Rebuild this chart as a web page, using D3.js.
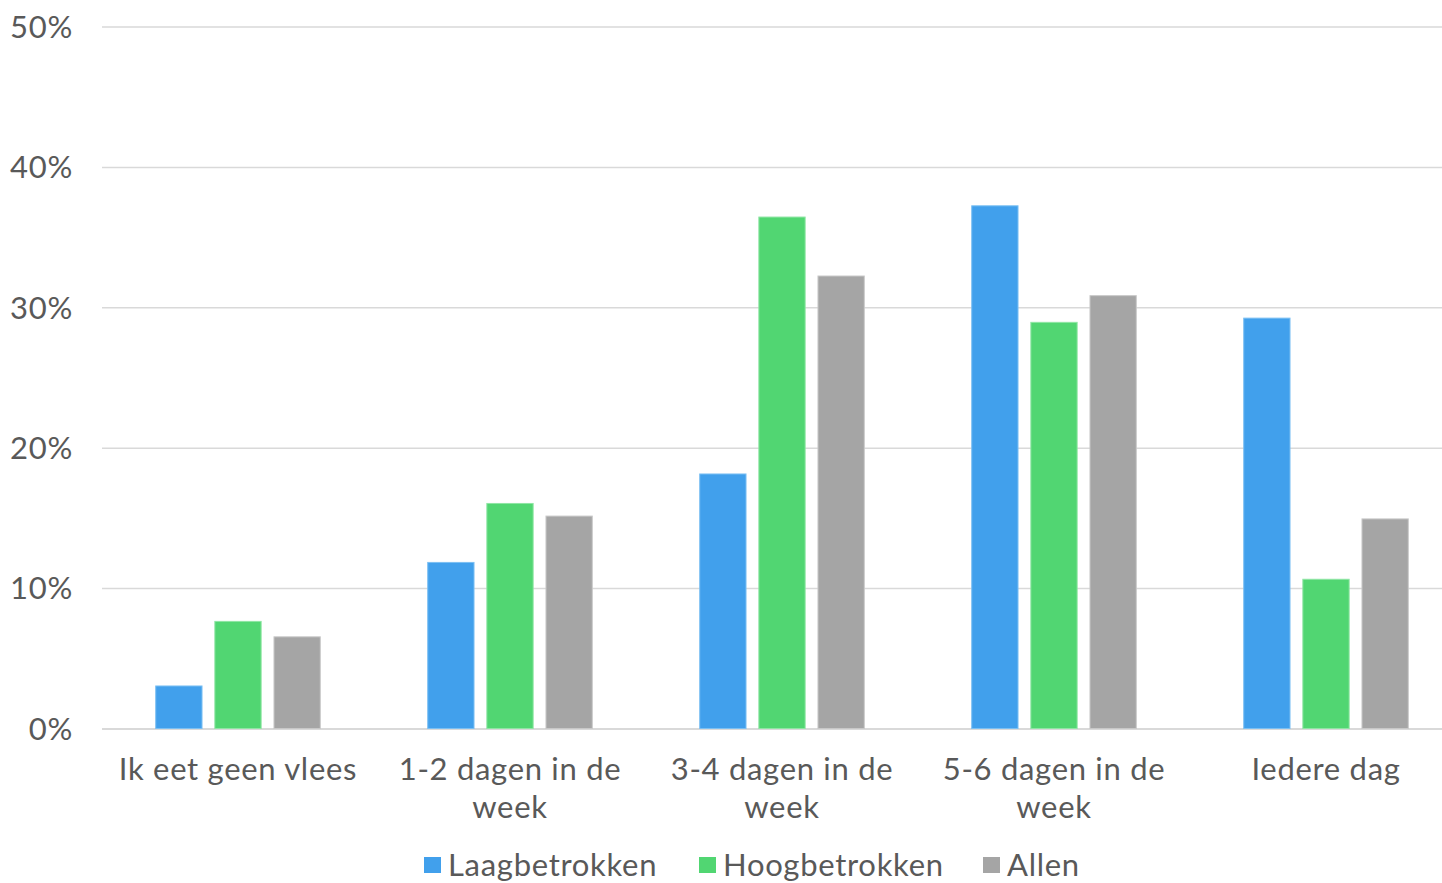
<!DOCTYPE html>
<html><head><meta charset="utf-8">
<script src="https://cdn.jsdelivr.net/npm/d3@7"></script>
<style>body{margin:0;background:#fff;}svg{display:block;}</style>
</head><body>
<svg id="c" width="1442" height="883"></svg>
<script>
const categories = ["Ik eet geen vlees","1-2 dagen in de week","3-4 dagen in de week","5-6 dagen in de week","Iedere dag"];
const seriesNames = ["Laagbetrokken","Hoogbetrokken","Allen"];
const laag = [3.1, 11.9, 18.2, 37.3, 29.3];
const hoog = [7.7, 16.1, 36.5, 29.0, 10.7];
const allen = [6.6, 15.2, 32.3, 30.9, 15.0];
const yTicks = [0,10,20,30,40,50];
const colors = ["#41A0EC","#51D672","#A5A5A5"];
const strokes = ["#7cc0f3","#8fe6a4","#c8c8c8"];
const values = [laag, hoog, allen];

const font = "Lato, 'Open Sans', sans-serif";
const fs = 31, ls = 0.7;
const textColor = "#595959";
const svg = d3.select("#c");
const x = d3.scaleBand().domain(categories).range([102, 1462]).paddingInner(0).paddingOuter(0);
const y = d3.scaleLinear().domain([0,50]).range([729, 27]);
const xs = d3.scaleBand().domain(seriesNames).range([0, x.bandwidth()]).paddingInner(0.2).paddingOuter(0.9);

// gridlines
svg.append("g").selectAll("line").data(yTicks).join("line")
  .attr("x1",102).attr("x2",1442)
  .attr("y1",d=>y(d)).attr("y2",d=>y(d))
  .attr("stroke","#d9d9d9").attr("stroke-width",d=>d===0?2:1.5);

// y labels
svg.append("g").selectAll("text").data(yTicks).join("text")
  .attr("x",73).attr("y",d=>y(d)).attr("dy","0.35em")
  .attr("text-anchor","end").attr("font-family",font).attr("font-size",fs)
  .attr("letter-spacing",ls)
  .attr("fill",textColor).text(d=>d+"%");

// bars
const rows = categories.map((c,i)=>({c, vals: seriesNames.map((s,j)=>({s,j,v:values[j][i]}))}));
const g = svg.append("g").selectAll("g").data(rows).join("g")
  .attr("transform",d=>`translate(${x(d.c)},0)`);
g.selectAll("rect").data(d=>d.vals).join("rect")
  .attr("x",d=>xs(d.s)+0.5).attr("width",xs.bandwidth()-1)
  .attr("y",d=>y(d.v)+0.5).attr("height",d=>y(0)-y(d.v)-1)
  .attr("fill",d=>colors[d.j]).attr("stroke",d=>strokes[d.j]).attr("stroke-width",1);

// x labels with wrapping
const maxW = 250;
svg.append("g").selectAll("text").data(categories).join("text")
  .attr("x",d=>x(d)+x.bandwidth()/2).attr("y",780)
  .attr("text-anchor","middle").attr("font-family",font).attr("font-size",fs)
  .attr("letter-spacing",ls)
  .attr("fill",textColor)
  .each(function(d){
    const t = d3.select(this);
    const words = d.split(" ");
    let line = [], lines = [];
    const tmp = t.append("tspan");
    for(const w of words){
      line.push(w);
      tmp.text(line.join(" "));
      if(tmp.node().getComputedTextLength()>maxW && line.length>1){
        line.pop(); lines.push(line.join(" ")); line=[w];
      }
    }
    lines.push(line.join(" "));
    tmp.remove();
    lines.forEach((l,i)=>t.append("tspan").attr("x",x(d)+x.bandwidth()/2).attr("dy",i?38:0).text(l));
  });

// legend
const lx = [424, 699, 983];
const lg = svg.append("g").selectAll("g").data(seriesNames).join("g")
  .attr("transform",(d,i)=>`translate(${lx[i]},857)`);
lg.append("rect").attr("width",17).attr("height",16).attr("fill",(d,i)=>colors[i]);
lg.append("text").attr("x",24).attr("y",8).attr("dy","0.34em")
  .attr("font-family",font).attr("font-size",fs).attr("letter-spacing",ls)
  .attr("fill",textColor).text(d=>d);
</script>
</body></html>
